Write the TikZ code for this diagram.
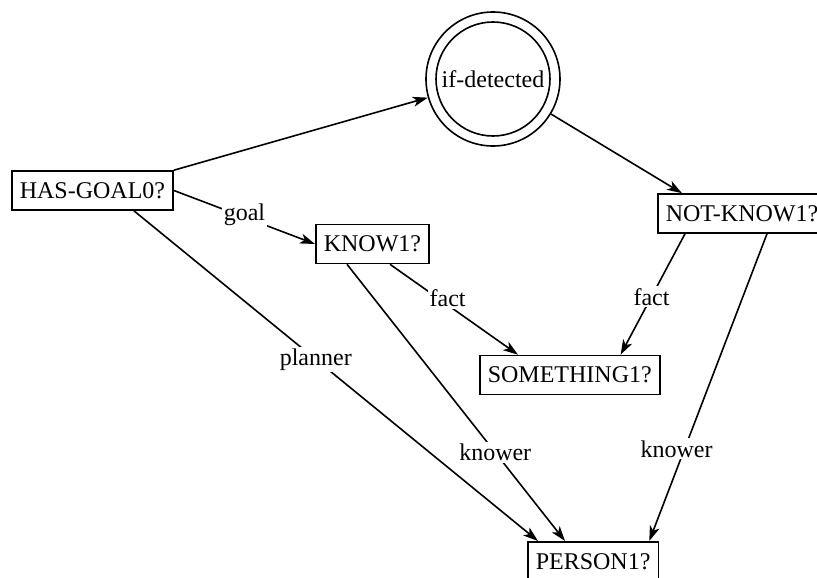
\documentclass[tikz,border=0pt]{standalone}
\usepackage{fontspec}
\setmainfont{Liberation Serif}
\usetikzlibrary{arrows.meta}
\begin{document}
\begin{tikzpicture}[x=1pt,y=-1pt,
  every node/.style={font=\fontsize{24}{28}\selectfont},
  box/.style={draw, line width=1.6pt, rectangle, inner xsep=8pt, inner ysep=0pt, minimum height=39pt},
  edge/.style={line width=1.6pt, -{Stealth[length=15pt,width=10pt,inset=4pt]}},
  lbl/.style={fill=white, inner sep=2pt}]
\useasboundingbox (0,0) rectangle (817,578);
\clip (0,0) rectangle (817,578);
\node[box, anchor=west] (has) at (11,190.5) {HAS-GOAL0?};
\node[box, anchor=west] (know) at (315,244) {KNOW1?};
\node[circle, draw, line width=1.6pt, minimum size=134pt, inner sep=0pt] (ifd) at (493,79) {};
\node[circle, draw, line width=1.6pt, minimum size=114pt, inner sep=0pt] (ifdin) at (ifd.center) {if-detected};
\node[box, anchor=west] (nk) at (657,213.5) {NOT-KNOW1?};
\node[box, anchor=west] (some) at (479,375) {SOMETHING1?};
\node[box, anchor=north west] (pers) at (527,541) {PERSON1?};

\draw[edge] (has.north east) -- (ifd);
\draw[edge] (has.east) -- node[lbl, pos=0.5, yshift=2pt] {goal} (know.west);
\draw[edge] ([xshift=-40pt]has.south east) -- node[lbl, pos=0.45] {planner} ([xshift=11pt]pers.north west);
\draw[edge] ([xshift=32pt]know.south west) -- node[lbl, pos=0.68] {knower} ([xshift=38pt]pers.north west);
\draw[edge] ([xshift=75pt]know.south west) -- node[lbl, pos=0.45, yshift=7pt] {fact} ([xshift=39pt]some.north west);
\draw[edge] (ifd) -- ([xshift=25pt]nk.north west);
\draw[edge] ([xshift=28pt]nk.south west) -- node[lbl, pos=0.52] {fact} ([xshift=-40pt]some.north east);
\draw[edge] ([xshift=110pt]nk.south west) -- node[lbl, pos=0.7, xshift=-8pt] {knower} ([xshift=-10pt]pers.north east);
\end{tikzpicture}
\end{document}
